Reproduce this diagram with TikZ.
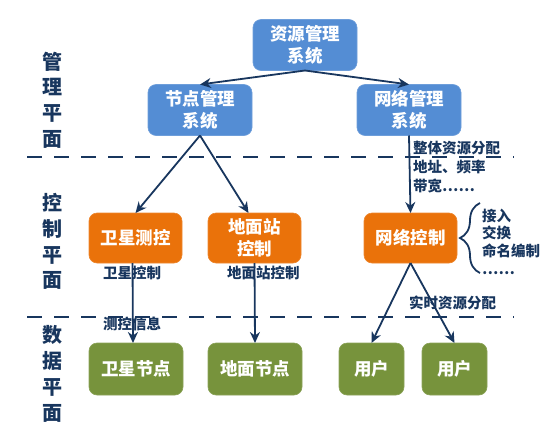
\documentclass[tikz,border=0pt]{standalone}
\usepackage{fontspec}
\newfontfamily\cjk{Noto Sans CJK SC}
\usetikzlibrary{arrows.meta,decorations.pathreplacing}
\definecolor{boxblue}{RGB}{84,141,212}
\definecolor{boxorange}{RGB}{234,114,10}
\definecolor{boxgreen}{RGB}{119,147,60}
\definecolor{navy}{RGB}{24,54,94}
\begin{document}
\begin{tikzpicture}[x=1pt,y=-1pt,
  box/.style={rounded corners=8pt, inner sep=0pt, outer sep=0pt, align=center,
    text=white, font=\cjk\bfseries\fontsize{17.5}{22}\selectfont},
  bluebox/.style={box, fill=boxblue, draw=boxblue!85!white, line width=0.6pt, minimum width=104pt, minimum height=51pt},
  orangebox/.style={box, fill=boxorange, draw=boxorange!85!white, line width=0.6pt, minimum width=93pt, minimum height=50pt},
  greenbox/.style={box, fill=boxgreen, draw=boxgreen!85!white, line width=0.6pt, minimum height=52pt},
  plane/.style={align=center, text=navy, inner sep=0pt, font=\cjk\bfseries\fontsize{20}{25.8}\selectfont},
  lbl/.style={anchor=west, text=navy, inner sep=0pt, font=\cjk\bfseries\fontsize{14.5}{18}\selectfont},
  arr/.style={draw=navy, line width=1.8pt, -{Stealth[length=11pt,width=10pt]}},
  sep/.style={draw=navy, line width=2.5pt, dash pattern=on 15pt off 12pt}
]
\useasboundingbox (0,0) rectangle (547,429);

% separators
\coordinate (s1a) at (27,157); \coordinate (s1b) at (514,157);
\coordinate (s2a) at (27,317); \coordinate (s2b) at (514,317);
\draw[sep] (s1a) -- (s1b);
\draw[sep] (s2a) -- (s2b);

% plane labels
\node[plane] (pm) at (52,100) {管\\理\\平\\面};
\node[plane] (pc) at (52,241.5) {控\\制\\平\\面};
\node[plane] (pd) at (52,374) {数\\据\\平\\面};

% boxes
\node[bluebox] (zy) at (305,45) {资源管理\\系统};
\node[bluebox] (jd) at (200,110) {节点管理\\系统};
\node[bluebox] (wl) at (409,110) {网络管理\\系统};

\node[orangebox] (wxck) at (135.5,238) {卫星测控};
\node[orangebox] (dmz) at (254.5,238) {地面站\\控制};
\node[orangebox] (wlkz) at (410.5,238) {网络控制};

\node[greenbox, minimum width=94pt] (wxjd) at (136,369) {卫星节点};
\node[greenbox, minimum width=94pt] (dmjd) at (255,369) {地面节点};
\node[greenbox, minimum width=65pt] (yh1) at (371.5,369) {用户};
\node[greenbox, minimum width=65pt] (yh2) at (454.5,369) {用户};

% connectors
\draw[arr] (zy.south) -- (jd.north);
\draw[arr] (zy.south) -- (wl.north);
\draw[arr] (jd.south) -- (wxck.north);
\draw[arr] (jd.south) -- ([xshift=-6pt]dmz.north);
\draw[arr] (wl.south) -- (wlkz.north);
\draw[arr] ([xshift=-3pt]wxck.south) -- ([xshift=-3pt]wxjd.north);
\draw[arr] (dmz.south) -- (dmjd.north);
\draw[arr] (wlkz.south) -- (yh1.north);
\draw[arr] (wlkz.south) -- (yh2.north);

% labels
\node[lbl] (l1) at (413,148) {整体资源分配};
\node[lbl] (l2) at (413,167) {地址、频率};
\node[lbl] (l3) at (413,186) {带宽……};
\node[lbl] (l4) at (103,273) {卫星控制};
\node[lbl] (l5) at (227,273) {地面站控制};
\node[lbl] (l6) at (103,324) {测控信息};
\node[lbl] (l7) at (409,303) {实时资源分配};

% brace and its list
\coordinate (ba) at (480,273); \coordinate (bb) at (480,203);
\draw[draw=navy, line width=1.8pt, decorate, decoration={brace, amplitude=20pt}] (ba) -- (bb);
\node[lbl, align=left, font=\cjk\bfseries\fontsize{14.5}{17.7}\selectfont] (bl) at (482,241.5) {接入\\交换\\命名编制\\……};
\end{tikzpicture}
\end{document}
